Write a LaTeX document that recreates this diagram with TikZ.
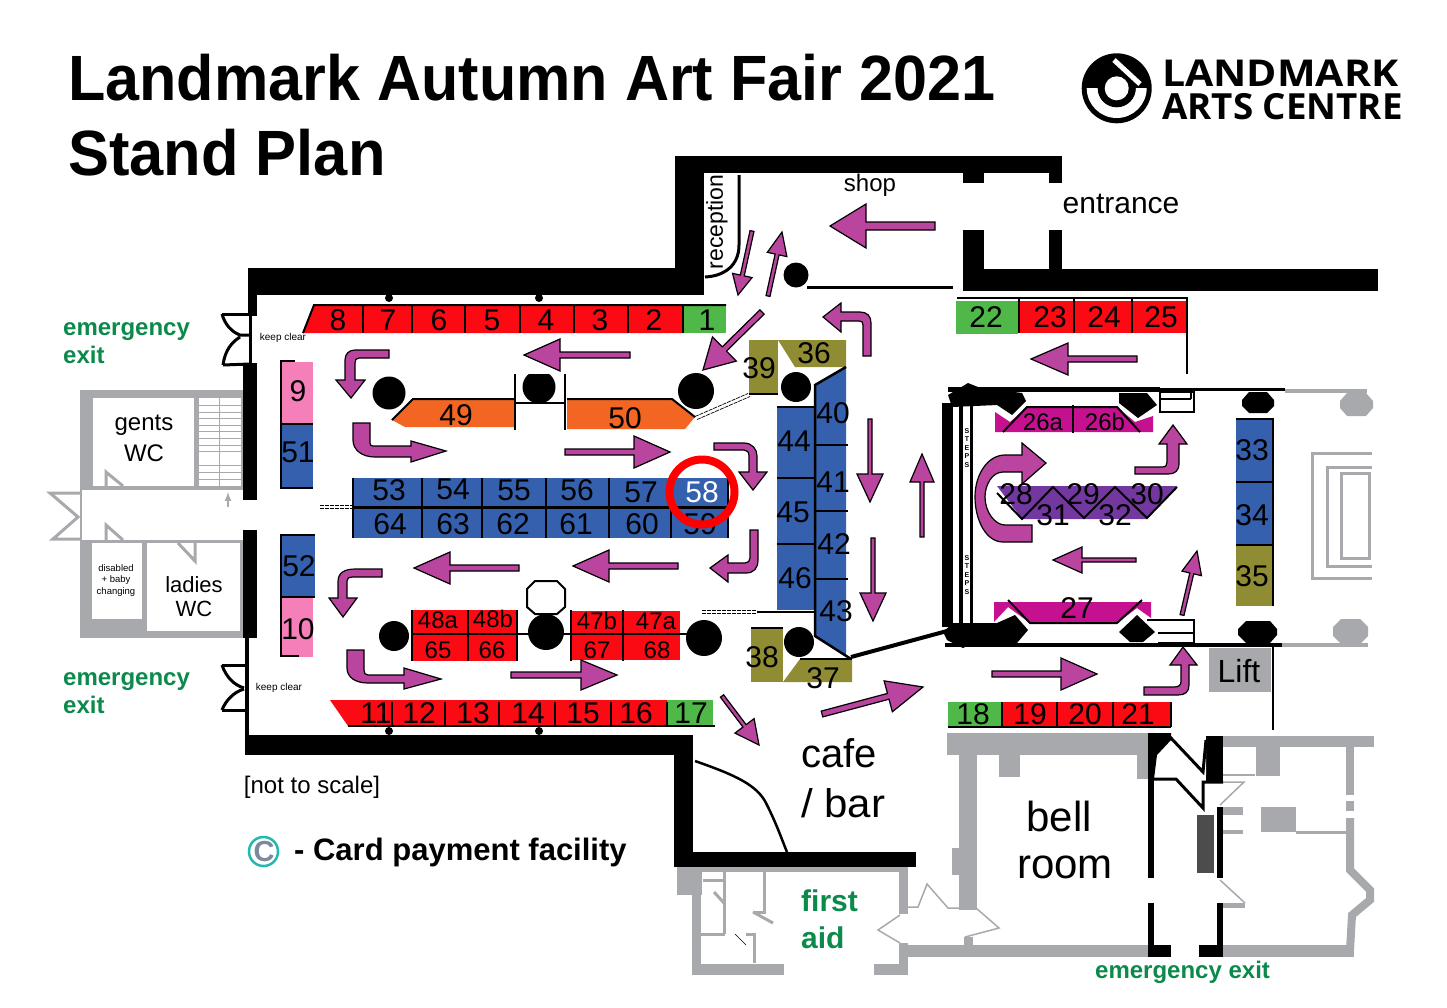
\documentclass[tikz,border=0pt]{standalone}
\usepackage{fontspec}
\setmainfont{Liberation Sans}
\newfontfamily\logofont{Open Sans}
\usetikzlibrary{calc}
\definecolor{standred}{HTML}{FB0A14}
\definecolor{standgreen}{HTML}{4FB848}
\definecolor{standpink}{HTML}{F47FB9}
\definecolor{standblue}{HTML}{3560AD}
\definecolor{standolive}{HTML}{8F8C33}
\definecolor{standorange}{HTML}{F26522}
\definecolor{standmagenta}{HTML}{C5108F}
\definecolor{standpurple}{HTML}{7238A0}
\definecolor{flowpurple}{HTML}{B9459F}
\definecolor{plangrey}{HTML}{A7A9AC}
\definecolor{signgreen}{HTML}{0B8A4B}
\definecolor{cardteal}{HTML}{25B8B3}
\definecolor{cardgrey}{HTML}{7D8A99}
\tikzset{
	wall/.style={fill=black},
	thinwall/.style={draw=black,line width=3pt},
	greywall/.style={fill=plangrey},
	greyline/.style={draw=plangrey,line width=3pt},
	hairline/.style={draw=plangrey,line width=1.5pt},
	pillar/.style={fill=black},
	divider/.style={draw=black,line width=2pt},
	flowshape/.style={fill=flowpurple,draw=black,line width=1.2pt,line join=miter},
	dbldash/.style={draw=black,line width=0.7pt,dash pattern=on 4pt off 1pt},
	stand/.style={font=\fontsize{30}{30}\selectfont,inner sep=0pt},
	smallstand/.style={font=\fontsize{24}{24}\selectfont,inner sep=0pt},
	roomlabel/.style={font=\fontsize{#1}{#1}\selectfont,inner sep=0pt},
	signlabel/.style={font=\fontsize{#1}{#1}\selectfont\bfseries,text=signgreen,inner sep=0pt,anchor=base west},
}
\newcommand{\flowarrow}[5]{
	\coordinate (ft) at #1;
	\coordinate (fh) at #2;
	\coordinate (fn) at ($(fh)!#4pt!(ft)$);
	\draw[flowshape] ($(ft)!#3pt!90:(fh)$) -- ($(fn)!#3pt!-90:(ft)$) -- ($(fn)!#5pt!-90:(ft)$) -- (fh)
		-- ($(fn)!#5pt!90:(ft)$) -- ($(fn)!#3pt!90:(ft)$) -- ($(ft)!#3pt!-90:(fh)$) -- cycle;
}
\begin{document}
\begin{tikzpicture}[x=1pt,y=-1pt]
	\useasboundingbox (0,0) rectangle (1447,1007);
	\fill[white] (0,0) rectangle (1447,1007);

	\node[anchor=base west,inner sep=0pt,xscale=0.955,font=\fontsize{64}{64}\selectfont\bfseries] (title) at (68,100) {Landmark Autumn Art Fair 2021};
	\node[anchor=base west,inner sep=0pt,xscale=0.96,font=\fontsize{64}{64}\selectfont\bfseries] (subtitle) at (68,175) {Stand Plan};

	\fill[black] (1116.7,88.3) circle (35);
	\fill[white] (1086.7,88) arc (180:0:30) -- (1135.7,88) arc (0:180:19) -- cycle;
	\fill[black] (1116.7,88.3) circle (19);
	\fill[white] (1116.7,88.3) circle (12);
	\draw[white,line width=5pt] (1114,60) -- (1140,84);
	\node[anchor=base west,inner sep=0pt,xscale=1.107,font=\logofont\fontsize{37}{37}\selectfont\bfseries] (logoa) at (1162,86) {LANDMARK};
	\node[anchor=base west,inner sep=0pt,xscale=1.02,font=\logofont\fontsize{36}{36}\selectfont\bfseries] (logob) at (1162,119) {ARTS CENTRE};

	\fill[greywall] (80,390) rectangle (243,638);
	\fill[white] (93,398) rectangle (194,486);
	\fill[white] (199,398) rectangle (241,486);
	\fill[white] (82,490) rectangle (243,540);
	\fill[white] (92,543) rectangle (142,619);
	\fill[white] (147,543) rectangle (240,631);
	\foreach \yy in {405,412,418,425,431,438,445,451,465,472,479}
		\draw[plangrey,line width=1pt] (199,\yy) -- (241,\yy);
	\draw[plangrey,line width=1pt] (219,398) -- (219,486);
	\draw[greyline] (80,493) -- (50,493) -- (78,517) -- (53,539) -- (80,539);
	\draw[greyline] (106,486) -- (106,472) -- (123,486);
	\draw[greyline] (106,540) -- (106,525) -- (123,540);
	\draw[greyline] (178,543) -- (195,561) -- (195,543);
	\draw[plangrey,line width=2pt,-latex] (228,507) -- (228,492);

	\fill[wall] (248,268) rectangle (703,295);
	\fill[wall] (675,156) rectangle (704,295);
	\fill[wall] (675,156) rectangle (1062,173);
	\fill[wall] (963,173) rectangle (984,183);
	\fill[wall] (1049,173) rectangle (1062,183);
	\fill[wall] (963,230) rectangle (984,291);
	\fill[wall] (1049,230) rectangle (1062,270);
	\fill[wall] (963,269) rectangle (1378,291);
	\fill[wall] (248,268) rectangle (257,316);
	\fill[wall] (243,363) rectangle (257,500);
	\fill[wall] (243,530) rectangle (257,638);
	\fill[wall] (249,316) rectangle (252,363);
	\fill[wall] (245,638) rectangle (249,735);
	\fill[wall] (245,735) rectangle (693,755);
	\fill[wall] (674,735) rectangle (693,867);
	\fill[wall] (674,852) rectangle (916,867);
	\draw[thinwall] (222,314) -- (250,314);
	\draw[thinwall] (222,314) .. controls (225,325) and (232,332) .. (240,335) -- (250,335);
	\draw[thinwall] (223,365) -- (250,364);
	\draw[thinwall] (223,365) .. controls (225,350) and (232,342) .. (240,337);
	\draw[thinwall] (222,665) -- (247,665);
	\draw[thinwall] (222,665) .. controls (226,677) and (234,685) .. (244,688);
	\draw[thinwall] (222,710) -- (247,710);
	\draw[thinwall] (222,710) .. controls (226,700) and (234,692) .. (244,689);
	\draw[thinwall] (739,175) -- (739,245) .. controls (739,265) and (725,276) .. (705,277);
	\draw[thinwall] (807,287) -- (953,287);
	\fill[pillar] (796,275) circle (12.5);
	\draw[black,line width=2.5pt] (695,761) .. controls (735,775) and (758,785) .. (767,805) .. controls (777,825) and (782,840) .. (787,852);
	\draw[black,line width=4pt] (851,657) -- (947,631);

	\fill[standred] (303,333) -- (314,305) -- (683,305) -- (683,333) -- cycle;
	\fill[standgreen] (683,305) rectangle (726,333);
	\draw[divider] (303,333) -- (314,305) -- (726,305);
	\foreach \xx in {363,412,465,520,574,628,683}
		\draw[divider] (\xx,305) -- (\xx,333);
	\fill[pillar] (389,298) circle (4) (539,298) circle (4);
	\foreach \n/\xx in {8/338,7/388,6/439,5/492,4/546,3/600,2/654,1/707}
		\node[stand] (st\n) at (\xx,320) {\n};

	\fill[standpink] (282,362) rectangle (313,424);
	\fill[standblue] (282,424) rectangle (313,487);
	\draw[divider] (295,361) -- (281,361) -- (281,488) -- (313,488);
	\draw[divider] (281,424) -- (313,424);
	\node[stand] (st9) at (298,391) {9};
	\node[stand] (st51) at (298,452) {51};
	\fill[standblue] (282,535) rectangle (315,597);
	\fill[standpink] (282,597) rectangle (313,657);
	\draw[divider] (315,535) -- (281,535) -- (281,656) -- (299,656);
	\draw[divider] (281,597) -- (315,597);
	\node[stand] (st52) at (299,566) {52};
	\node[stand] (st10) at (298,629) {10};

	\fill[standorange] (392,420) -- (413,399) -- (515,399) -- (515,427) -- (405,427) -- cycle;
	\fill[standorange] (567,399) -- (672,399) -- (695,417) -- (685,429) -- (567,429) -- cycle;
	\draw[divider] (392,420) -- (413,399) -- (515,399);
	\draw[divider] (567,399) -- (672,399) -- (695,417);
	\fill[pillar] (389,393) circle (16.5);
	\fill[pillar] (696,391) circle (18);
	\begin{scope}
		\clip (515,374) rectangle (565,410);
		\fill[pillar] (539,387) circle (16.5);
	\end{scope}
	\draw[divider] (515,374) -- (515,430);
	\draw[divider] (565,374) -- (565,430);
	\draw[divider] (515,403) -- (565,403);
	\node[stand] (st49) at (456,415) {49};
	\node[stand] (st50) at (625,418) {50};
	\draw[dbldash] (695,416.5) -- (748,393.5);
	\draw[dbldash] (697,419.5) -- (750,396.5);
	\draw[dbldash] (320,505.5) -- (353,505.5);
	\draw[dbldash] (320,508.5) -- (353,508.5);
	\draw[dbldash] (702,610.5) -- (757,610.5);
	\draw[dbldash] (702,613.5) -- (757,613.5);

	\fill[standblue] (353,478) rectangle (728,538);
	\draw[black,line width=3pt] (353,507) -- (728,507);
	\foreach \xx in {353,421.5,482,546,609,671,728}
		\draw[divider] (\xx,478) -- (\xx,538);
	\foreach \n/\xx/\yy in {53/389/490,54/453/489,55/514/490,56/577/490,57/641/492,64/390/524,63/453/524,62/513/524,61/576/524,60/642/524,59/700/524}
		\node[stand] (st\n) at (\xx,\yy) {\n};
	\node[stand,text=white] (st58) at (702,492) {58};
	\draw[red,line width=8pt] (702,492) circle (32.5);

	\fill[standred] (411,610) rectangle (517,661);
	\fill[standred] (571,611) rectangle (680,660);
	\draw[divider] (412,634) -- (720,634);
	\foreach \xx in {412,468,517,571,623}
		\draw[divider] (\xx,610) -- (\xx,661);
	\fill[pillar] (394,636) circle (15);
	\fill[pillar] (546,632) circle (18);
	\fill[pillar] (704,638) circle (18);
	\draw[black,fill=white,line width=2pt] (535,581) -- (557,581) -- (565,589) -- (565,607) -- (557,614) -- (535,614) -- (527,607) -- (527,589) -- cycle;
	\foreach \n/\xx/\yy in {48a/438/620,48b/493/619,65/438/650,66/492/650,47b/597/621,47a/656/621,67/597/650,68/657/650}
		\node[smallstand] (st\n) at (\xx,\yy) {\n};

	\fill[standred] (330,700) -- (667,700) -- (667,726) -- (348,726) -- cycle;
	\fill[standgreen] (667,700) rectangle (713,726);
	\draw[divider] (348,726) -- (715,726);
	\foreach \xx in {392,444.5,499,555,611,667}
		\draw[divider] (\xx,702) -- (\xx,726);
	\fill[pillar] (389,731) circle (4) (539,731) circle (4);
	\foreach \n/\xx in {11/376,12/419,13/473,14/528,15/583,16/636,17/691}
		\node[stand] (st\n) at (\xx,713) {\n};

	\fill[standolive] (749,340) rectangle (778,394);
	\fill[standolive] (778,340) -- (846,340) -- (846,367) -- (795,367) -- cycle;
	\draw[divider] (749,394) -- (778,394);
	\fill[pillar] (796,387) circle (15);
	\fill[standolive] (751,628) rectangle (783,682);
	\fill[standolive] (783,682) -- (800,659) -- (852,659) -- (852,682) -- cycle;
	\draw[divider] (751,628) -- (783,628);
	\draw[divider] (800,659) -- (852,659);
	\fill[pillar] (799,642) circle (15);
	\fill[standblue] (777,408) rectangle (815,610);
	\fill[standblue] (815,385) -- (846,367) -- (846,657) -- (815,636) -- cycle;
	\draw[divider] (777,407) -- (815,407);
	\draw[line width=2.5pt] (846,367) -- (815,385) -- (815,636) -- (851,659);
	\draw[line width=2.5pt] (757,612) -- (815,612);
	\foreach \yy in {478,544}
		\draw[divider] (777,\yy) -- (815,\yy);
	\foreach \yy in {445,511,579}
		\draw[divider] (815,\yy) -- (848,\yy);
	\foreach \n/\xx/\yy in {39/759/368,36/814/353,44/794/441,45/793/512,46/795/578,40/833/413,41/833/482,42/834/544,43/836/611,38/762/657,37/823/678}
		\node[stand] (st\n) at (\xx,\yy) {\n};

	\fill[standgreen] (956,301) rectangle (1018,334);
	\fill[standred] (1019,301) rectangle (1186,333);
	\draw[divider] (957,298) -- (1188,298);
	\draw[divider] (1187,298) -- (1187,374);
	\foreach \xx in {1019,1074,1132}
		\draw[divider] (\xx,298) -- (\xx,333);
	\foreach \n/\xx in {22/986,23/1050,24/1104,25/1161}
		\node[stand] (st\n) at (\xx,317) {\n};

	\fill[wall] (948,387) rectangle (1160,392);
	\fill[wall] (1160,388) rectangle (1285,391);
	\fill[plangrey] (1285,389) rectangle (1367,393);
	\fill[wall] (945,643) rectangle (1282,647);
	\fill[plangrey] (1282,643) rectangle (1368,647);
	\fill[wall] (942,403) rectangle (953,627);
	\fill[wall] (959,403) rectangle (963,627);
	\fill[wall] (970,403) rectangle (973,627);
	\fill[wall] (948,395) -- (968,383) -- (978,387) -- (1022,393) -- (1026,401) -- (1012,415) -- (997,405) -- (952,407) -- cycle;
	\fill[wall] (1119,393) -- (1147,393) -- (1157,405) -- (1138,418) -- (1119,403) -- cycle;
	\draw[line width=2.5pt] (1160,392) rectangle (1194,412);
	\draw[line width=2.5pt] (1160,399) -- (1191,399) (1191,392) -- (1191,399);
	\fill[wall] (943,632) -- (953,623) -- (997,623) -- (1015,615) -- (1028,630) -- (1017,643) -- (973,643) -- (963,648) -- (947,640) -- cycle;
	\fill[wall] (1119,632) -- (1137,615) -- (1155,632) -- (1143,642) -- (1130,642) -- cycle;
	\draw[line width=2.5pt] (1147,620) -- (1194,620) -- (1194,643) -- (1158,643);
	\draw[line width=2.5pt] (1158,633) -- (1194,633);
	\fill[pillar] (1249,392) -- (1267,392) -- (1274,400) -- (1274,406) -- (1267,413) -- (1249,413) -- (1242,406) -- (1242,400) -- cycle;
	\fill[pillar] (1246,621) -- (1270,621) -- (1277,629) -- (1277,635) -- (1270,643) -- (1246,643) -- (1238,635) -- (1238,629) -- cycle;
	\fill[plangrey] (1347,393) -- (1366,393) -- (1373,401) -- (1373,408) -- (1366,416) -- (1347,416) -- (1340,408) -- (1340,401) -- cycle;
	\fill[plangrey] (1341,619) -- (1360,619) -- (1368,627) -- (1368,636) -- (1360,644) -- (1341,644) -- (1333,636) -- (1333,627) -- cycle;
	\foreach \n/\yy in {a/431,b/558}
		\node[inner sep=0pt,align=center,font=\fontsize{7}{8.6}\selectfont\bfseries,anchor=north] (steps\n) at (967,\yy-3) {S\\T\\E\\P\\S};

	\fill[standmagenta] (995,412) -- (1010,422) -- (1027,407) -- (1117,407) -- (1135,422) -- (1153,416) -- (1153,432) -- (995,432) -- cycle;
	\draw[divider] (1003,432) -- (1027,407) -- (1117,407) -- (1140,432);
	\draw[divider] (1073,405) -- (1073,433);
	\node[smallstand] (st26a) at (1043,422) {26a};
	\node[smallstand] (st26b) at (1105,422) {26b};
	\fill[standmagenta] (994,602) -- (1151,602) -- (1151,618) -- (1137,608) -- (1117,623) -- (1030,623) -- (1008,607) -- (994,622) -- cycle;
	\draw[divider] (1008,600) -- (1030,623) -- (1117,623) -- (1142,600);
	\node[stand] (st27) at (1077,608) {27};

	\fill[standpurple] (997,486) -- (1177,486) -- (1147,519) -- (1022,519) -- cycle;
	\draw[divider] (997,493) -- (1022,519) -- (1053,487) -- (1084,518) -- (1115,487) -- (1147,518) -- (1177,487);
	\foreach \n/\xx/\yy in {28/1016/494,29/1083/494,30/1147/494,31/1053/515,32/1115/515}
		\node[stand] (st\n) at (\xx,\yy) {\n};

	\fill[standblue] (1236,420) rectangle (1273,544);
	\fill[standolive] (1236,545) rectangle (1273,606);
	\draw[divider] (1236,419) -- (1273,419) -- (1273,606);
	\draw[divider] (1236,482) -- (1273,482);
	\draw[divider] (1236,545) -- (1273,545);
	\foreach \n/\yy in {33/450,34/515,35/576}
		\node[stand] (st\n) at (1252,\yy) {\n};

	\draw[greyline] (1372,453) -- (1312,453) -- (1312,578) -- (1372,578);
	\draw[greyline] (1372,467) -- (1327,467) -- (1327,566) -- (1372,566);
	\draw[greyline] (1341,473) rectangle (1369,558);

	\fill[plangrey] (1209,648) rectangle (1271,692);
	\node[roomlabel=32] (lift) at (1239,671) {Lift};
	\draw[divider] (1273,645) -- (1273,730);

	\fill[standgreen] (948,702) rectangle (1002,727);
	\fill[standred] (1003,702) rectangle (1171,727);
	\draw[divider] (948,727) -- (1171,727);
	\foreach \xx in {1002,1057,1113,1171}
		\draw[divider] (\xx,702) -- (\xx,727);
	\foreach \n/\xx in {18/973,19/1030,20/1085,21/1138}
		\node[stand] (st\n) at (\xx,714) {\n};

	\fill[greywall] (947,733) rectangle (1148,755);
	\fill[greywall] (959,755) rectangle (977,910);
	\fill[greywall] (952,848) rectangle (960,875);
	\fill[greywall] (999,755) rectangle (1020,777);
	\fill[greywall] (1137,755) rectangle (1148,779);
	\fill[greywall] (900,945) rectangle (1148,957);
	\fill[greywall] (1223,945) rectangle (1354,957);
	\fill[greywall] (1223,736) rectangle (1374,747);
	\fill[greywall] (1256,747) rectangle (1280,776);
	\fill[greywall] (1346,747) rectangle (1354,795);
	\fill[greywall] (1346,801) rectangle (1354,811);
	\fill[greywall] (1222,807) rectangle (1243,815);
	\fill[greywall] (1222,830) rectangle (1243,834);
	\fill[greywall] (1261,807) rectangle (1296,832);
	\fill[greywall] (1223,903) rectangle (1245,908);
	\draw[plangrey,line width=3pt] (1296,832) -- (1350,832);
	\draw[plangrey,line width=8pt] (1350,818) -- (1350,870) -- (1370,890) -- (1370,900) -- (1352,915) -- (1350,950);
	\draw[hairline] (1223,775) -- (1255,775);
	\draw[hairline] (1223,782) -- (1244,782) -- (1220,805);
	\draw[hairline] (1220,880) -- (1245,903);

	\fill[wall] (1148,733) -- (1171,733) -- (1171,740) -- (1157,755) -- (1154,779) -- (1148,779) -- cycle;
	\fill[wall] (1206,736) -- (1223,736) -- (1223,782) -- (1206,782) -- cycle;
	\fill[white] (1171,736) -- (1203,770) -- (1206,740) -- (1206,775) -- (1196,775) -- cycle;
	\draw[line width=3pt] (1170,737) -- (1203,772) -- (1206,740);
	\draw[line width=3pt] (1148,779) -- (1176,779) -- (1203,808) -- (1203,782) -- (1223,782);
	\fill[wall] (1148,779) rectangle (1154,878);
	\fill[wall] (1148,903) rectangle (1154,945);
	\fill[wall] (1217,807) rectangle (1223,878);
	\fill[wall] (1217,903) rectangle (1223,945);
	\fill[wall] (1148,945) rectangle (1171,957);
	\fill[wall] (1199,945) rectangle (1223,957);
	\fill[black!70] (1197,815) rectangle (1214,873);

	\fill[greywall] (677,867) rectangle (908,872);
	\fill[greywall] (677,872) rectangle (702,895);
	\fill[greywall] (692,895) rectangle (701,975);
	\fill[greywall] (692,964) rectangle (784,975);
	\fill[greywall] (874,964) rectangle (908,975);
	\fill[greywall] (899,872) rectangle (908,914);
	\fill[greywall] (899,943) rectangle (908,975);
	\draw[greyline] (764,872) -- (764,912) -- (753,912);
	\draw[greyline] (753,912) -- (773,923);
	\draw[greyline] (703,880) -- (723,880);
	\draw[greyline] (724,872) -- (724,934);
	\draw[greyline] (714,892) -- (724,903);
	\draw[greyline] (701,934) -- (725,934);
	\draw[greyline] (746,934) -- (754,934) -- (754,963);
	\draw[black,line width=0.6pt] (735,934) -- (746,945);
	\draw[hairline] (900,915) -- (878,930) -- (900,943);
	\draw[hairline] (906,907) -- (918,907) -- (927,884) -- (948,908) -- (976,908) -- (999,928) -- (965,937);
	\fill[greywall] (964,937) rectangle (973,947);

	\flowarrow{(935,226)}{(830,226)}{4}{36}{22}
	\flowarrow{(752,231)}{(738,295)}{2}{20}{10}
	\flowarrow{(768,296)}{(782,232)}{2}{23}{10}
	\flowarrow{(762,312)}{(703,370)}{3}{30}{17}
	\flowarrow{(630,355)}{(524,355)}{3}{36}{16}
	\flowarrow{(565,452)}{(670,452)}{3}{36}{16}
	\flowarrow{(678,566)}{(573,566)}{3}{36}{16}
	\flowarrow{(519,568)}{(414,568)}{3}{36}{16}
	\flowarrow{(511,675)}{(617,675)}{3}{36}{15}
	\flowarrow{(722,696)}{(759,745)}{2}{24}{12}
	\flowarrow{(870,419)}{(870,502)}{2}{28}{13}
	\flowarrow{(873,538)}{(873,621)}{2}{28}{13}
	\flowarrow{(922,537)}{(922,454)}{2}{28}{12}
	\flowarrow{(822,714)}{(923,687)}{3}{36}{16}
	\flowarrow{(1137,359)}{(1031,359)}{3}{37}{16}
	\flowarrow{(1136,560)}{(1053,560)}{2}{29}{13}
	\flowarrow{(1182,615)}{(1197,551)}{2}{23}{10}
	\flowarrow{(992,674)}{(1097,674)}{3}{36}{16}

	\draw[flowshape] (389,350) -- (355,350) .. controls (349,350) and (345,354) .. (345,360) -- (345,380) -- (336,380) -- (351,398) -- (365,380) -- (355,380) -- (355,363) .. controls (355,360) and (356,358) .. (359,358) -- (389,358) -- cycle;
	\draw[flowshape] (353,423) -- (370,423) -- (370,443) .. controls (370,445) and (371,446) .. (373,446) -- (411,446) -- (411,441) -- (446,451) -- (411,462) -- (411,457) -- (375,457) .. controls (362,457) and (353,450) .. (353,440) -- cycle;
	\draw[flowshape] (714,443) -- (744,443) .. controls (752,443) and (757,449) .. (757,456) -- (757,472) -- (767,472) -- (753,490) -- (739,472) -- (749,472) -- (749,456) .. controls (749,452) and (747,450) .. (744,450) -- (714,450) -- cycle;
	\draw[flowshape] (750,530) -- (758,530) -- (758,560) .. controls (758,568) and (754,573) .. (746,573) -- (728,573) -- (728,582) -- (710,568) -- (728,555) -- (728,563) -- (745,563) .. controls (748,563) and (750,561) .. (750,558) -- cycle;
	\draw[flowshape] (382,569) -- (356,569) .. controls (345,569) and (338,572) .. (338,582) -- (338,598) -- (329,598) -- (343,617) -- (357,598) -- (347,598) -- (347,581) .. controls (347,578) and (349,577) .. (352,577) -- (382,577) -- cycle;
	\draw[flowshape] (347,650) -- (364,650) -- (364,670) .. controls (364,673) and (365,675) .. (368,675) -- (404,675) -- (404,668) -- (441,679) -- (404,689) -- (404,683) -- (368,683) .. controls (355,683) and (347,677) .. (347,668) -- cycle;
	\draw[flowshape] (863,356) -- (871,356) -- (871,323) .. controls (871,316) and (867,312) .. (860,312) -- (841,312) -- (841,303) -- (823,317) -- (841,332) -- (841,321) -- (859,321) .. controls (862,321) and (863,322) .. (863,325) -- cycle;
	\draw[flowshape] (1135,467) -- (1162,467) .. controls (1166,467) and (1167,465) .. (1167,462) -- (1167,444) -- (1159,444) -- (1173,425) -- (1187,444) -- (1179,444) -- (1179,463) .. controls (1179,471) and (1175,474) .. (1168,474) -- (1135,474) -- cycle;
	\draw[flowshape] (1032,525) -- (1032,542) -- (1003,542) .. controls (986,542) and (975,520) .. (975,497) .. controls (975,474) and (988,455) .. (1005,455) -- (1022,455) -- (1022,443) -- (1046,463) -- (1022,484) -- (1022,472) -- (1003,472) .. controls (992,472) and (985,485) .. (985,497) .. controls (985,512) and (995,525) .. (1005,525) -- cycle;
	\draw[flowshape] (1144,687) -- (1174,687) .. controls (1179,687) and (1181,685) .. (1181,681) -- (1181,665) -- (1170,665) -- (1183,647) -- (1197,665) -- (1189,665) -- (1189,685) .. controls (1189,692) and (1185,695) .. (1178,695) -- (1144,695) -- cycle;

	\node[roomlabel=24] (gentsa) at (144,425) {gents};
	\node[roomlabel=24] (gentsb) at (144,453) {WC};
	\node[roomlabel=22] (ladiesa) at (194,585) {ladies};
	\node[roomlabel=22] (ladiesb) at (194,609) {WC};
	\node[roomlabel=9.5] (disa) at (116,568) {disabled};
	\node[roomlabel=9.5] (disb) at (116,580) {+ baby};
	\node[roomlabel=9.5] (disc) at (116,592) {changing};
	\node[roomlabel=10] (cleara) at (283,338) {keep clear};
	\node[roomlabel=10] (clearb) at (279,688) {keep clear};
	\node[signlabel=24] (exita) at (63,335) {emergency};
	\node[signlabel=24] (exitb) at (63,363) {exit};
	\node[signlabel=24] (exitc) at (63,685) {emergency};
	\node[signlabel=24] (exitd) at (63,713) {exit};
	\node[signlabel=24] (exite) at (1095,978) {emergency exit};
	\node[signlabel=30] (aida) at (801,911) {first};
	\node[signlabel=30] (aidb) at (801,948) {aid};
	\node[roomlabel=24] (scale) at (312,787) {[not to scale]};
	\draw[draw=cardteal,line width=2.5pt] (263.5,851.5) circle (14.5);
	\node[inner sep=0pt,text=cardgrey,font=\fontsize{29}{29}\selectfont\bfseries] (cardc) at (264,852) {C};
	\node[anchor=base west,inner sep=0pt,font=\fontsize{31}{31}\selectfont\bfseries] (card) at (294,860) {- Card payment facility};
	\node[roomlabel=24] (shop) at (870,185) {shop};
	\node[roomlabel=30] (entrance) at (1121,204) {entrance};
	\node[roomlabel=23,rotate=90] (reception) at (717,222) {reception};
	\node[roomlabel=40,anchor=base west] (cafea) at (801,767) {cafe};
	\node[roomlabel=40,xscale=1.05,anchor=base west] (cafeb) at (801,817) {/ bar};
	\node[roomlabel=42] (bella) at (1059,816) {bell};
	\node[roomlabel=42] (bellb) at (1065,867) {room};
\end{tikzpicture}
\end{document}
